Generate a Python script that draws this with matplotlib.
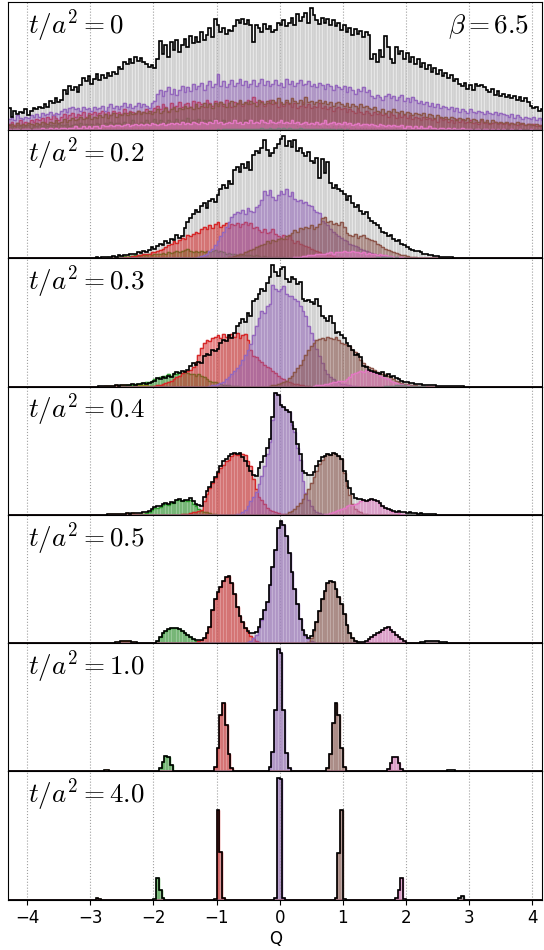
import numpy as np
import matplotlib.pyplot as plt
from matplotlib.colors import to_rgba

plt.rcParams['mathtext.fontset'] = 'cm'

# histogram bins: width 1/23 in Q, left edges at k/23
edges = np.arange(-99, 97) / 23
nbins = len(edges) - 1
centers = 0.5 * (edges[:-1] + edges[1:])

flow_times = ['0', '0.2', '0.3', '0.4', '0.5', '1.0', '4.0']
sector_colors = {-3: 'tab:orange', -2: 'tab:green', -1: 'tab:red', 0: 'tab:purple',
                 1: 'tab:brown', 2: 'tab:pink', 3: 'tab:gray'}

# every series: (first bin k, bar heights in % of the panel maximum)
# ---- t/a^2 = 0 ----
t0_total = (-99, [18, 11, 16, 13, 15, 14, 17, 12, 16, 18,
                  17, 19, 18, 21, 19, 24, 22, 26, 23, 25,
                  33, 30, 36, 33, 35, 31, 37, 43, 40, 44,
                  38, 42, 46, 41, 45, 43, 47, 44, 48, 46,
                  52, 50, 56, 54, 58, 55, 60, 57, 59, 56,
                  54, 52, 53, 51, 58, 73, 62, 70, 60, 72,
                  66, 74, 64, 70, 75, 68, 77, 71, 76, 72,
                  80, 74, 78, 84, 76, 91, 86, 80, 84, 79,
                  82, 81, 85, 90, 88, 91, 87, 90, 86, 72,
                  86, 84, 80, 87, 83, 85, 80, 82, 88, 86,
                  90, 85, 88, 92, 86, 95, 89, 93, 96, 88,
                  100, 94, 90, 87, 92, 88, 91, 86, 90, 85,
                  88, 82, 86, 80, 84, 78, 83, 79, 81, 76,
                  80, 78, 58, 62, 56, 66, 60, 77, 68, 58,
                  55, 68, 62, 65, 58, 63, 56, 60, 54, 58,
                  52, 55, 50, 53, 48, 51, 46, 49, 44, 47,
                  43, 45, 40, 42, 38, 36, 39, 34, 37, 33,
                  38, 36, 37, 35, 33, 31, 34, 29, 32, 28,
                  30, 27, 29, 26, 28, 25, 27, 24, 26, 23,
                  20, 18, 19, 16, 17])
t0_q0 = (-99, [9, 11, 8, 12, 10, 9, 11, 10, 12, 11,
               13, 11, 14, 12, 13, 15, 12, 14, 13, 16,
               17, 15, 18, 19, 17, 18, 16, 19, 17, 18,
               16, 19, 17, 18, 20, 16, 19, 21, 18, 20,
               17, 20, 22, 19, 21, 18, 20, 22, 19, 21,
               20, 18, 22, 24, 30, 33, 28, 32, 35, 30,
               34, 29, 33, 36, 31, 35, 32, 38, 34, 36,
               39, 33, 37, 40, 35, 38, 46, 36, 40, 35,
               38, 41, 36, 39, 42, 37, 40, 35, 38, 41,
               36, 39, 42, 37, 40, 36, 38, 41, 37, 39,
               35, 42, 38, 40, 36, 39, 41, 37, 38, 40,
               36, 38, 35, 39, 37, 34, 38, 36, 33, 37,
               35, 34, 36, 31, 35, 33, 30, 34, 32, 35,
               31, 33, 28, 26, 29, 27, 25, 28, 30, 26,
               28, 25, 27, 29, 24, 26, 23, 27, 25, 22,
               24, 21, 23, 20, 22, 19, 21, 18, 20, 19,
               17, 19, 16, 18, 15, 17, 16, 14, 17, 15,
               14, 16, 15, 13, 16, 14, 13, 15, 12, 14,
               13, 12, 11, 13, 10, 12, 11, 9, 11, 10,
               9, 11, 8, 10, 8])
t0_qm1 = (-99, [5, 7, 4, 6, 8, 5, 7, 6, 8, 7,
                9, 8, 10, 7, 11, 9, 12, 10, 8, 11,
                13, 10, 12, 14, 11, 13, 12, 15, 11, 14,
                13, 15, 12, 14, 16, 13, 15, 12, 16, 14,
                15, 13, 17, 14, 16, 15, 13, 16, 14, 15,
                17, 14, 16, 18, 20, 17, 21, 19, 16, 22,
                18, 20, 23, 19, 21, 22, 19, 24, 20, 23,
                21, 19, 25, 22, 20, 24, 21, 23, 20, 25,
                22, 19, 23, 21, 24, 20, 22, 25, 21, 27,
                23, 21, 24, 20, 22, 25, 21, 23, 19, 22,
                20, 23, 21, 19, 22, 18, 20, 23, 19, 21,
                18, 20, 19, 22, 18, 20, 17, 19, 16, 18,
                19, 17, 18, 15, 17, 16, 14, 17, 15, 13,
                16, 14, 12, 15, 13, 14, 12, 13, 11, 14,
                12, 10, 13, 11, 12, 10, 12, 9, 11, 10,
                8, 11, 9, 10, 8, 9, 7, 10, 8, 9,
                7, 8, 6, 9, 7, 8, 6, 7, 8, 6,
                7, 5, 8, 6, 7, 5, 6, 7, 5, 6,
                5, 6, 4, 6, 5, 4, 6, 5, 4, 5,
                4, 5, 3, 4, 3])
t0_q1 = (-99, [4, 5, 3, 6, 4, 5, 4, 6, 5, 4,
               6, 5, 7, 6, 5, 7, 6, 8, 6, 7,
               9, 7, 8, 10, 8, 9, 11, 9, 10, 12,
               9, 11, 10, 12, 11, 13, 10, 12, 14, 11,
               13, 12, 14, 12, 15, 13, 14, 16, 13, 15,
               14, 16, 13, 15, 17, 14, 16, 18, 15, 17,
               19, 16, 18, 17, 20, 18, 19, 17, 21, 18,
               20, 22, 19, 21, 18, 22, 20, 23, 21, 19,
               22, 24, 20, 22, 25, 21, 23, 21, 24, 22,
               20, 25, 23, 21, 24, 22, 25, 22, 26, 23,
               21, 25, 22, 26, 24, 22, 25, 21, 27, 23,
               24, 21, 23, 25, 22, 24, 21, 23, 20, 22,
               23, 21, 20, 22, 19, 21, 20, 18, 21, 19,
               20, 18, 17, 19, 16, 15, 17, 14, 16, 15,
               17, 15, 14, 16, 13, 15, 14, 12, 14, 13,
               12, 14, 11, 13, 12, 10, 12, 11, 10, 11,
               9, 11, 10, 8, 10, 9, 8, 10, 7, 9,
               8, 7, 9, 7, 8, 6, 8, 7, 6, 7,
               6, 7, 5, 6, 5, 7, 5, 6, 4, 5,
               5, 4, 5, 3, 4])
t0_qm2 = (-99, [2, 3, 2, 4, 3, 2, 3, 4, 2, 3,
                3, 4, 3, 5, 3, 4, 4, 3, 5, 4,
                4, 5, 3, 4, 5, 4, 6, 4, 5, 4,
                5, 4, 6, 5, 4, 6, 5, 7, 5, 6,
                6, 5, 7, 5, 6, 8, 6, 5, 7, 6,
                8, 6, 7, 9, 6, 8, 7, 6, 8, 7,
                7, 9, 6, 8, 7, 10, 7, 8, 6, 9,
                7, 8, 6, 8, 7, 9, 6, 7, 8, 6,
                7, 6, 8, 5, 7, 6, 8, 5, 7, 6,
                5, 7, 6, 5, 6, 4, 5, 6, 4, 5,
                5, 4, 6, 4, 5, 3, 4, 5, 3, 4,
                4, 3, 4, 3, 2, 4, 3, 2, 3, 2,
                3, 2, 3, 2, 2, 3, 2, 1, 2, 2,
                2, 1, 2, 2, 1, 2, 1, 2, 1, 1,
                1, 2, 1, 1, 2, 1, 1, 1, 2, 1,
                1, 1, 0, 1, 1, 0, 1, 1, 0, 1,
                0, 1, 0, 1, 0, 0, 1, 0, 0, 1,
                0, 0, 1, 0, 0, 0, 1, 0, 0, 0,
                0, 1, 0, 0, 0, 0, 0, 1, 0, 0,
                0, 0, 0, 0, 0])
t0_q2 = (-99, [1, 0, 1, 1, 0, 1, 1, 1, 0, 1,
               1, 1, 2, 1, 1, 2, 1, 2, 1, 2,
               2, 1, 2, 2, 3, 2, 2, 3, 2, 3,
               2, 3, 3, 2, 4, 3, 3, 4, 3, 4,
               4, 3, 4, 5, 3, 4, 5, 4, 5, 4,
               5, 4, 6, 5, 4, 5, 6, 4, 5, 6,
               5, 6, 5, 7, 5, 6, 5, 7, 6, 5,
               7, 6, 5, 7, 6, 8, 6, 7, 5, 6,
               7, 6, 8, 6, 7, 5, 7, 6, 8, 6,
               7, 6, 8, 7, 6, 8, 7, 6, 7, 8,
               6, 7, 6, 8, 6, 7, 5, 6, 7, 5,
               6, 5, 7, 5, 6, 8, 5, 6, 7, 5,
               6, 5, 7, 5, 6, 4, 5, 6, 4, 5,
               5, 4, 5, 4, 3, 5, 4, 3, 4, 3,
               4, 3, 3, 4, 2, 3, 3, 2, 3, 2,
               3, 2, 2, 3, 2, 2, 1, 2, 2, 1,
               2, 1, 2, 1, 1, 2, 1, 1, 1, 0,
               1, 1, 0, 1, 1, 0, 1, 0, 1, 0,
               1, 0, 0, 1, 0, 0, 1, 0, 0, 0,
               1, 0, 0, 0, 0])
t0_qm3 = (-80, [0.5, 0.8, 0.6, 1, 0.8, 1.2, 0.9, 1.1, 1.4, 1,
                1.3, 1.6, 1.1, 1.5, 1.2, 1.8, 1.4, 1.2, 1.7, 1.3,
                1.5, 1.9, 1.4, 1.6, 1.2, 1.8, 1.5, 1.3, 1.6, 1.1,
                1.4, 1.2, 1.5, 1, 1.3, 1.1, 0.9, 1.2, 0.8, 1,
                0.9, 0.7, 1, 0.8, 0.6, 0.8, 0.5, 0.7, 0.6, 0.4,
                0.6, 0.5, 0.3, 0.5, 0.4, 0.3, 0.4, 0.2, 0.3, 0.2])
t0_q3 = (-30, [0.2, 0.3, 0.2, 0.4, 0.3, 0.5, 0.4, 0.6, 0.5, 0.7,
               0.6, 0.8, 0.6, 0.9, 0.7, 1, 0.8, 1.1, 0.9, 1.2,
               1, 1.3, 1.1, 1.4, 1.2, 1.1, 1.5, 1.2, 1.3, 1.6,
               1.2, 1.4, 1.1, 1.5, 1.3, 1.2, 1, 1.4, 1.1, 1.2,
               0.9, 1.1, 0.8, 1, 0.9, 0.7, 0.9, 0.6, 0.8, 0.7,
               0.5, 0.7, 0.6, 0.4, 0.6, 0.5, 0.3, 0.4, 0.3, 0.2])

# ---- t/a^2 = 0.2 ----
t02_total = (-72, [0.3, 0.3, 0.5, 0.3, 0.5, 1, 0.5, 1, 0.8, 1,
                   1.5, 2, 1.5, 3, 2, 3, 2.5, 3.5, 4, 3.5,
                   5, 4.5, 6, 5.5, 7, 9, 8, 10, 12, 11,
                   14, 13, 16, 15, 19, 17, 18, 25, 30, 33,
                   36, 40, 38, 43, 45, 41, 47, 49, 46, 52,
                   57, 60, 58, 63, 61, 72, 75, 71, 77, 74,
                   79, 72, 85, 88, 86, 90, 97, 89, 84, 86,
                   90, 94, 98, 100, 92, 96, 91, 97, 88, 90,
                   86, 84, 87, 80, 78, 82, 66, 81, 70, 79,
                   62, 58, 60, 57, 55, 53, 48, 51, 45, 42,
                   44, 39, 36, 38, 33, 31, 29, 27, 25, 22,
                   21, 18, 19, 16, 14, 15, 12, 11, 9, 8,
                   7, 6, 6, 5, 4, 3.5, 3, 2.5, 2, 2,
                   1.5, 1.5, 1, 1, 0.8, 0.5, 0.5, 0.3, 0.3, 0.2,
                   0.2, 0.1, 0.1, 0.1, 0.1])
t02_q0 = (-30, [1, 2, 3, 4, 6, 8, 11, 14, 18, 22,
                26, 30, 34, 36, 38, 37, 40, 36, 41, 39,
                38, 42, 44, 48, 55, 52, 56, 50, 48, 52,
                55, 53, 57, 51, 54, 49, 47, 48, 45, 46,
                44, 43, 40, 38, 37, 31, 29, 27, 24, 22,
                20, 18, 17, 15, 14, 12, 11, 10, 9, 8,
                7, 6, 5, 4.5, 4, 3, 2.5, 2, 1.5, 1,
                0.8, 0.5, 0.3])
t02_qm1 = (-58, [0.5, 1, 1, 1.5, 2, 2, 2.5, 3, 3.5, 4,
                 4, 5, 5, 6, 7, 8, 9, 11, 12, 14,
                 13, 15, 17, 16, 19, 18, 20, 22, 21, 24,
                 26, 24, 27, 25, 28, 30, 26, 27, 29, 25,
                 28, 27, 29, 26, 28, 30, 27, 29, 25, 26,
                 23, 22, 24, 21, 22, 24, 20, 18, 17, 19,
                 16, 18, 15, 13, 14, 12, 11, 10, 9, 8,
                 7, 6, 5, 4, 3.5, 3, 2.5, 2, 1.5, 1,
                 0.8, 0.5, 0.3])
t02_q1 = (-20, [0.5, 1, 1.5, 2, 3, 3.5, 4, 5, 6, 7,
                8, 9, 10, 11, 12, 14, 13, 15, 14, 16,
                17, 16, 18, 19, 21, 23, 22, 25, 24, 26,
                25, 27, 24, 26, 28, 33, 34, 30, 31, 28,
                29, 27, 30, 26, 21, 19, 18, 20, 17, 18,
                19, 17, 16, 15, 14, 12, 11, 9, 8, 7,
                6, 5, 4.5, 4, 3, 2.5, 2, 1.5, 1, 0.8,
                0.5, 0.5, 0.3, 0.2])
t02_qm2 = (-66, [0.3, 0.5, 0.5, 1, 0.5, 1, 1, 1.5, 1, 2,
                 1.5, 2, 2, 2.5, 2, 3, 2.5, 3, 3.5, 3,
                 4, 3.5, 4, 4.5, 4, 5, 4.5, 5, 6, 5,
                 6, 7, 8, 6, 5.5, 6, 5, 6, 5.5, 6,
                 5, 6, 7, 5.5, 6, 5, 4, 4.5, 3.5, 4,
                 3, 3.5, 3, 2.5, 3, 2.5, 2, 2.5, 2, 1.5,
                 2, 1.5, 1, 1.5, 1, 1, 0.5, 1, 0.5, 0.5,
                 0.3, 0.3])
t02_q2 = (4, [0.5, 1, 1, 1.5, 2, 2, 2.5, 3, 3, 3.5,
              4, 3.5, 4, 4.5, 5, 4, 5, 5.5, 5, 6,
              5, 5.5, 6, 5, 5.5, 4.5, 5, 4, 4.5, 3.5,
              4, 3, 3.5, 2.5, 3, 2, 2, 1.5, 1.5, 1,
              1, 0.5, 0.5, 0.3, 0.3, 0.2])
t02_qm3 = (-64, [0.3, 0.5, 0.5, 0.8, 0.5, 1, 0.8, 1, 1.2, 1,
                 1.5, 1.2, 1, 1.4, 1.2, 1, 1.3, 1, 0.8, 1,
                 0.8, 0.6, 0.8, 0.5, 0.6, 0.4, 0.5, 0.3, 0.3, 0.2])
t02_q3 = (30, [0.2, 0.3, 0.5, 0.4, 0.6, 0.8, 0.6, 1, 0.8, 1,
               0.8, 0.7, 0.9, 0.6, 0.5, 0.6, 0.4, 0.3, 0.3, 0.2])

# ---- t/a^2 = 0.3 ----
t03_total = (-66, [0.3, 0.5, 0.3, 0.5, 0.8, 0.5, 1, 0.8, 1, 1.5,
                   1, 1.5, 2, 1.5, 2.5, 2, 3, 2.5, 3, 4,
                   5, 7, 6, 8, 7, 9, 8, 10, 12, 11,
                   13, 12, 14, 17, 19, 18, 20, 19, 25, 27,
                   26, 30, 29, 31, 36, 38, 37, 42, 40, 44,
                   50, 52, 55, 53, 60, 58, 70, 72, 76, 80,
                   78, 85, 90, 100, 94, 91, 96, 98, 88, 86,
                   90, 88, 84, 86, 72, 70, 71, 69, 68, 72,
                   66, 58, 56, 54, 58, 52, 44, 45, 42, 40,
                   36, 33, 30, 26, 27, 24, 17, 16, 14, 13,
                   12, 11, 10, 12, 9, 10, 8, 9, 7, 6,
                   5, 4, 3.5, 3, 3, 2.5, 2, 2, 1.5, 1.5,
                   1, 1, 1, 0.8, 0.8, 0.6, 0.5, 0.5, 0.4, 0.3,
                   0.3, 0.2, 0.2, 0.1])
t03_q0 = (-26, [0.5, 1, 1.5, 2, 3, 4, 6, 8, 10, 13,
                15, 18, 22, 26, 30, 35, 42, 50, 56, 62,
                60, 66, 68, 83, 80, 78, 80, 82, 76, 74,
                74, 72, 70, 66, 62, 58, 50, 44, 38, 31,
                25, 19, 14, 10, 8, 6, 4.5, 3.5, 2.5, 2,
                1.5, 1, 0.5, 0.3])
t03_qm1 = (-46, [0.5, 1, 1.5, 2, 3, 4, 5, 6, 8, 9,
                 11, 12, 13, 14, 16, 20, 26, 32, 36, 38,
                 37, 40, 41, 42, 40, 43, 41, 42, 43, 41,
                 44, 40, 42, 43, 38, 30, 25, 24, 22, 20,
                 18, 16, 15, 13, 11, 9, 7, 6, 5, 4,
                 3, 2.5, 2, 1.5, 1, 0.5, 0.3])
t03_q1 = (-4, [0.5, 1, 1.5, 2, 3, 4, 5, 7, 9, 12,
               15, 18, 22, 26, 30, 33, 36, 38, 39, 40,
               38, 41, 40, 39, 41, 38, 36, 35, 34, 33,
               30, 28, 26, 22, 19, 17, 16, 15, 14, 12,
               11, 10, 10, 9, 8, 6, 5, 4, 3, 2.5,
               2, 1.5, 1, 1, 0.5, 0.5, 0.3])
t03_qm2 = (-58, [0.5, 0.5, 1, 1, 1.5, 2, 2.5, 3, 3, 3.5,
                 4, 5, 6, 7, 8, 8.5, 9, 10, 9, 11,
                 10, 12, 11, 12, 11, 10, 10, 9, 10, 9,
                 8, 6, 5, 4, 3.5, 3, 2, 1.5, 1, 1,
                 0.5, 0.5, 0.3])
t03_q2 = (12, [0.5, 1, 1, 1.5, 2, 2.5, 3, 3.5, 4, 4.5,
               5, 5, 6, 8, 10, 11, 12, 13, 12, 14,
               13, 12, 11, 10, 9, 8, 7, 6, 5, 4,
               3, 2.5, 2, 1.5, 1, 0.5, 0.3])
t03_qm3 = (-64, [0.3, 0.5, 0.6, 0.8, 1, 0.8, 1.2, 1, 1.4, 1.2,
                 1.5, 1.3, 1.2, 1.4, 1, 1.2, 0.9, 0.8, 0.6, 0.5,
                 0.4, 0.3, 0.2])
t03_q3 = (38, [0.3, 0.5, 0.6, 0.8, 1, 1.2, 1.1, 1, 0.9, 0.8,
               0.6, 0.5, 0.4, 0.3, 0.2])

# ---- t/a^2 = 0.4 ----
t04_total = (-64, [0.3, 0.5, 0.5, 0.8, 0.5, 1, 0.8, 1, 1.2, 1,
                   1.5, 1.2, 1.3, 1.5, 2, 2.5, 3.5, 5, 6.5, 7,
                   7.5, 9, 10, 9, 10.5, 10, 12.5, 13, 11.5, 12.5,
                   12.5, 13.5, 11, 9, 8, 7.5, 15, 19.5, 23, 27,
                   31, 35, 40, 44, 46, 48, 50, 51, 50, 51,
                   47, 44, 40, 36, 33, 32, 38, 43, 48, 55,
                   62, 80, 100, 98, 90, 88, 86, 84, 76, 70,
                   58, 50, 36, 34, 33, 33, 35, 40, 44, 47,
                   48, 50, 49, 51, 50, 48, 46, 36, 28, 22,
                   17, 14, 13, 13, 12.5, 11.5, 12, 13, 12, 11,
                   9.5, 7.5, 6, 5, 4, 3, 2.5, 3, 2.5, 2,
                   1.5, 2, 1.5, 1.2, 1, 1.2, 0.8, 1, 0.6, 0.5,
                   0.5, 0.3, 0.3, 0.2, 0.2])
t04_q0 = (-16, [0.5, 1, 2, 4, 7, 11, 15, 19, 25, 32,
                40, 50, 60, 78, 100, 98, 90, 88, 86, 84,
                74, 68, 55, 45, 28, 18, 12, 7, 4, 2.5,
                1.5, 0.8, 0.3])
t04_qm1 = (-36, [0.5, 0.8, 1, 1.5, 2, 2, 3, 4, 11, 17,
                 22, 26, 30, 34, 38, 41, 44, 45, 48, 50,
                 49, 51, 50, 49, 44, 40, 29, 21, 15, 12,
                 9, 6, 4, 3, 2, 1.5, 1, 0.5, 0.3, 0.2])
t04_q1 = (2, [1, 2, 3, 5, 7, 10, 13, 17, 21, 26,
              31, 36, 42, 45, 48, 50, 49, 51, 50, 48,
              46, 34, 24, 16, 9, 5, 3, 2, 1, 0.5])
t04_qm2 = (-52, [0.3, 0.5, 1, 1.5, 2.5, 4, 5.5, 6, 6.5, 8,
                 9, 8.5, 10, 9.5, 12, 12.5, 11, 12, 11.5, 12,
                 9, 7, 5, 3.5, 2.5, 2, 1.5, 1, 0.5, 0.3])
t04_q2 = (16, [0.5, 1, 1.5, 2, 3, 4, 5, 6, 7, 8,
               8, 9, 10, 11, 12, 11, 12, 13, 12, 11,
               9, 7, 6, 4.5, 3.5, 2.5, 2, 1.5, 1, 0.5,
               0.3])
t04_qm3 = (-64, [0.3, 0.5, 0.5, 0.8, 0.5, 1, 0.8, 1, 1.2, 1,
                 1.2, 1, 0.8, 0.6, 0.5, 0.4, 0.3, 0.2])
t04_q3 = (46, [0.5, 1, 0.8, 1.2, 1, 1.2, 0.8, 1, 0.6, 0.5,
               0.5, 0.3, 0.3, 0.2, 0.2])

# ---- t/a^2 = 0.5 ----
t05_q0 = (-13, [0.5, 1, 2, 4, 7, 12, 19, 27, 34, 48,
                62, 76, 94, 100, 97, 88, 74, 58, 44, 32,
                20, 11, 6, 3.5, 2, 1, 0.5, 0.3, 0.2, 0.1])
t05_qm1 = (-31, [0.5, 1.5, 2.5, 4, 8, 13, 27, 36, 42, 46,
                 51, 54, 55, 49, 40, 30, 22, 17, 12, 9,
                 6, 4, 2, 1, 0.4])
t05_q1 = (9, [0.4, 1, 4, 10, 17, 26, 36, 43, 49, 51,
              50, 44, 38, 32, 24, 15, 8, 4, 2, 0.8, 0.3])
t05_qm2 = (-46, [0.5, 2, 5, 8, 10, 11.5, 12, 12.5, 12, 11.5,
                 10, 8.5, 7, 5, 3.5, 2, 1, 0.4])
t05_q2 = (29, [0.3, 1, 2, 3.5, 5, 6.5, 8, 9.5, 11, 12.5,
               13, 11, 9, 7, 5, 3, 1.5, 0.5])
t05_qm3 = (-61, [0.3, 0.6, 1, 1.5, 1.8, 1.5, 1.8, 1.2, 0.8, 0.5, 0.3])
t05_q3 = (50, [0.3, 0.6, 1, 1.5, 1.8, 2, 1.8, 1.6, 1.3, 1, 0.7, 0.4, 0.2])

# ---- t/a^2 = 1.0 ----
t10_q0 = (-5, [0.5, 4, 16, 50, 100, 97, 50, 15, 3, 0.5])
t10_qm1 = (-24, [4, 19, 46, 56, 38, 14, 3])
t10_q1 = (17, [3, 14, 40, 56, 46, 19, 4])
t10_qm2 = (-45, [0.5, 3, 8, 13, 12, 5, 0.5])
t10_q2 = (38, [0.3, 2, 7, 12, 12, 7, 2, 0.3])
t10_qm3 = (-65, [0.3, 0.8, 1, 0.6, 0.2])
t10_q3 = (60, [0.5, 1.2, 1.5, 0.8, 0.3])

# ---- t/a^2 = 4.0 ----
t40_q0 = (-2, [1, 100, 99, 1])
t40_qm1 = (-24, [0.5, 73, 39, 1])
t40_q1 = (20, [1, 38, 73, 0.5])
t40_qm2 = (-46, [0.5, 18, 8, 1])
t40_q2 = (42, [1, 8, 18, 0.5])
t40_qm3 = (-67, [1, 0.5])
t40_q3 = (65, [1, 3])


def place(series):
    k0, vals = series
    arr = np.zeros(nbins)
    i = k0 + 99
    vals = np.asarray(vals, dtype=float)[:nbins - i]
    arr[i:i + len(vals)] = vals
    return arr


panels = [
    (t0_total, {-3: t0_qm3, -2: t0_qm2, -1: t0_qm1, 0: t0_q0, 1: t0_q1, 2: t0_q2, 3: t0_q3}),
    (t02_total, {-3: t02_qm3, -2: t02_qm2, -1: t02_qm1, 0: t02_q0, 1: t02_q1, 2: t02_q2, 3: t02_q3}),
    (t03_total, {-3: t03_qm3, -2: t03_qm2, -1: t03_qm1, 0: t03_q0, 1: t03_q1, 2: t03_q2, 3: t03_q3}),
    (t04_total, {-3: t04_qm3, -2: t04_qm2, -1: t04_qm1, 0: t04_q0, 1: t04_q1, 2: t04_q2, 3: t04_q3}),
    (None, {-3: t05_qm3, -2: t05_qm2, -1: t05_qm1, 0: t05_q0, 1: t05_q1, 2: t05_q2, 3: t05_q3}),
    (None, {-3: t10_qm3, -2: t10_qm2, -1: t10_qm1, 0: t10_q0, 1: t10_q1, 2: t10_q2, 3: t10_q3}),
    (None, {-3: t40_qm3, -2: t40_qm2, -1: t40_qm1, 0: t40_q0, 1: t40_q1, 2: t40_q2, 3: t40_q3}),
]

fig, axes = plt.subplots(7, 1, sharex=True, figsize=(5.44, 9.5))
fig.subplots_adjust(left=0.015, right=0.997, top=0.998, bottom=0.053, hspace=0)

w = 1 / 23
for ax, t, (total, parts) in zip(axes, flow_times, panels):
    heights = {q: place(s) for q, s in parts.items()}
    tot = place(total) if total is not None else sum(heights.values())

    ax.bar(centers, tot, width=w, color=to_rgba('lightgray', 0.55),
           edgecolor=to_rgba('gray', 0.5), linewidth=0.3)
    for q, h in heights.items():
        c = sector_colors[q]
        ax.bar(centers, h, width=w, color=to_rgba(c, 0.42),
               edgecolor=to_rgba(c, 0.55), linewidth=0.3)
        ax.stairs(h, edges, color=c, linewidth=1.0)
    ax.stairs(tot, edges, color='k', linewidth=1.2)

    ax.grid(axis='x', linestyle=':', color='#a0a0a0', linewidth=0.8)
    ax.set_axisbelow(True)
    ax.tick_params(left=False, labelleft=False, bottom=False)
    ax.text(0.037, 0.755, rf'$t/a^2={t}$', transform=ax.transAxes,
            fontsize=19.5, ha='left', va='baseline')

axes[0].text(0.976, 0.755, r'$\beta=6.5$', transform=axes[0].transAxes,
             fontsize=19.5, ha='right', va='baseline')

axes[-1].tick_params(bottom=True, labelsize=12)
axes[-1].set_xticks(np.arange(-4, 5))
axes[-1].set_xlim(-4.3, 4.16)
axes[-1].set_xlabel('Q', fontsize=12, labelpad=2)

fig.savefig('out.png', dpi=100)
